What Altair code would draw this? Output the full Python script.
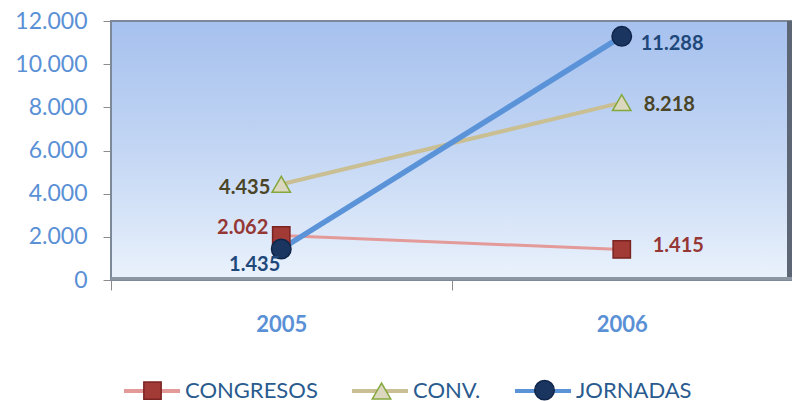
import altair as alt
import pandas as pd

years = ["2005", "2006"]
series = ["CONGRESOS", "CONV.", "JORNADAS"]
congresos = [2062, 1415]
conv = [4435, 8218]
jornadas = [1435, 11288]

rows = []
for s, vals in zip(series, [congresos, conv, jornadas]):
    for y, v in zip(years, vals):
        rows.append({"year": y, "serie": s, "value": v})
df = pd.DataFrame(rows)

line_colors = ["#e39a98", "#c9bf93", "#5b93d9"]
line_widths = [3, 4, 5.5]
marker_fill = ["#a23a36", "#dcd7bf", "#1a355f"]
marker_stroke = ["#7a2422", "#84a83c", "#10254a"]
marker_shapes = ["square", "triangle-up", "circle"]
marker_sizes = [300, 380, 100]
text_colors = ["#953735", "#4a4526", "#1f487a"]

W, H = 681, 259
FONT = "Lato"

x_enc = alt.X("year:N", title=None,
              scale=alt.Scale(paddingInner=0, paddingOuter=0),
              axis=alt.Axis(tickBand="extent", labelAngle=0, labelFont=FONT,
                            labelFontSize=22, labelFontWeight="bold",
                            labelColor="#5a90d6", labelPadding=24, tickSize=10,
                            tickColor="#8c8c8c", domain=False, grid=True,
                            gridColor="#8c8c8c", gridWidth=1))
y_enc = alt.Y("value:Q", title=None,
              scale=alt.Scale(domain=[0, 12000], nice=False),
              axis=alt.Axis(values=[0, 2000, 4000, 6000, 8000, 10000, 12000],
                            labelExpr="replace(format(datum.value, ','), ',', '.')",
                            labelFont=FONT, labelFontSize=23, labelColor="#5a90d6",
                            labelPadding=16, tickSize=8, tickColor="#8c8c8c",
                            domain=False, grid=True, gridColor="#8c8c8c", gridWidth=1))

base = alt.Chart(df).transform_calculate(serie_l="datum.serie")

legend_common = dict(orient="none", direction="horizontal", title=None,
                     labelFont=FONT, labelFontSize=22, labelColor="#2a5b8f",
                     legendX=11, padding=0)

grad = alt.Gradient(gradient="linear", x1=0, y1=0, x2=0, y2=1,
                    stops=[alt.GradientStop(color="#a6c1ee", offset=0),
                           alt.GradientStop(color="#c3d6f4", offset=0.5),
                           alt.GradientStop(color="#eaf2fc", offset=1)])

bgdata = pd.DataFrame({"bg": [0]})
background = alt.Chart(bgdata).mark_rect(
    color=grad, stroke="#7d8899", strokeWidth=2
).encode(x=alt.value(0), x2=alt.value(W), y=alt.value(0), y2=alt.value(H))
edge_right = alt.Chart(bgdata).mark_rule(color="#5d6674", strokeWidth=5).encode(
    x=alt.value(W - 2.5), y=alt.value(0), y2=alt.value(H))
edge_bottom = alt.Chart(bgdata).mark_rule(color="#8d96a3", strokeWidth=3).encode(
    x=alt.value(0), x2=alt.value(W), y=alt.value(H - 1.5))

layers = [background, edge_right, edge_bottom]
for i, s in enumerate(series):
    layers.append(
        base.transform_filter(alt.datum.serie == s).mark_line(strokeWidth=line_widths[i]).encode(
            x=x_enc, y=y_enc,
            color=alt.Color("serie_l:N",
                            scale=alt.Scale(range=line_colors),
                            legend=alt.Legend(symbolType="stroke", symbolSize=3136,
                                              symbolStrokeWidth=4, labelOffset=3,
                                              columnPadding=26, legendY=340,
                                              **legend_common))
        )
    )

points = base.mark_point(filled=True, strokeWidth=1.5, opacity=1).encode(
    x=x_enc, y=y_enc,
    fill=alt.Fill("serie:N", scale=alt.Scale(domain=series, range=marker_fill),
                  legend=alt.Legend(symbolStrokeWidth=1.5, columnPadding=12, legendY=358,
                                    symbolOffset=19.5, labelOffset=42, labelOpacity=0,
                                    **legend_common)),
    stroke=alt.Stroke("serie:N", scale=alt.Scale(domain=series, range=marker_stroke)),
    shape=alt.Shape("serie:N", scale=alt.Scale(domain=series, range=marker_shapes)),
    size=alt.Size("serie:N", scale=alt.Scale(domain=series, range=marker_sizes)),
)
layers.append(points)

# label offsets per series and year: (align, dx, dy)
label_pos = {
    ("CONGRESOS", "2005"): ("right", -13, -7),
    ("CONGRESOS", "2006"): ("left", 31, -3),
    ("CONV.", "2005"): ("right", -11, 4),
    ("CONV.", "2006"): ("left", 22, 2),
    ("JORNADAS", "2005"): ("right", -1, 16),
    ("JORNADAS", "2006"): ("left", 19, 8),
}
for i, s in enumerate(series):
    for y in years:
        al, dx, dy = label_pos[(s, y)]
        layers.append(
            base.transform_filter((alt.datum.serie == s) & (alt.datum.year == y))
            .transform_calculate(lab="replace(format(datum.value, ','), ',', '.')")
            .mark_text(align=al, baseline="middle", dx=dx, dy=dy, font=FONT,
                       fontSize=20, fontWeight="bold", color=text_colors[i])
            .encode(x=x_enc, y=y_enc, text="lab:N")
        )

chart = alt.layer(*layers).properties(
    width=W, height=H,
    autosize=alt.AutoSizeParams(type="none"),
    padding={"left": 103, "top": 13, "right": 0, "bottom": 129},
    background="white",
).configure_view(stroke=None)

chart.save("out.html", embed_options={"renderer": "svg", "actions": False})
